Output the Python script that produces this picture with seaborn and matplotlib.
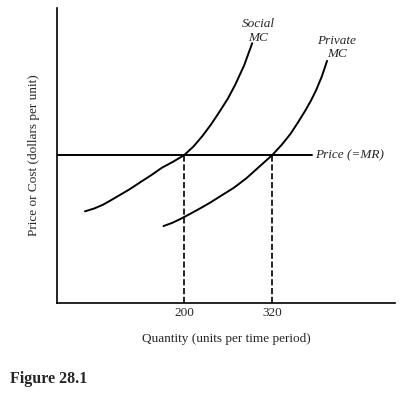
import matplotlib
matplotlib.use("Agg")
import matplotlib.pyplot as plt
import seaborn as sns

sns.set_style("white")
plt.rcParams['font.family'] = ['Liberation Serif', 'DejaVu Serif']

# curves
social_x = [65, 78, 90, 102, 113, 126, 140, 155, 170, 185, 200, 213, 225, 237, 249, 260, 270, 282, 293]
social_y = [31, 32, 33.3, 35, 36.6, 38.5, 40.8, 43.2, 45.8, 47.8, 50, 53, 56.5, 60.5, 65, 69.3, 74, 80.5, 88]
private_x = [172, 184, 195, 208, 222, 236, 250, 268, 285, 302, 320, 333, 345, 355, 365, 373, 380, 388, 395]
private_y = [26, 27.1, 28.4, 30.1, 32, 34, 36.2, 39, 42.2, 46, 50, 53.5, 57.2, 61, 65, 68.5, 72, 76.8, 82]
price = 50
price_x = [27, 375]
q_ticks = [200, 320]

fig = plt.figure(figsize=(4.05, 4.07), dpi=100)
ax = fig.add_axes([0.141, 0.256, 0.835, 0.725])

sns.lineplot(x=social_x, y=social_y, color='black', lw=1.4, ax=ax)
sns.lineplot(x=private_x, y=private_y, color='black', lw=1.4, ax=ax)
ax.plot(price_x, [price, price], color='black', lw=1.4)
for q in q_ticks:
    ax.plot([q, q], [0, price], color='black', lw=1.2, ls='--')

ax.text(301, 92, "Social\nMC", style='italic', ha='center', va='center', fontsize=9.5)
ax.text(408, 86.5, "Private\nMC", style='italic', ha='center', va='center', fontsize=9.5)
ax.text(378, price, "Price (=MR)", style='italic', ha='left', va='center', fontsize=9.5)

ax.set_xlim(27, 488)
ax.set_ylim(0, 100)
ax.set_xticks(q_ticks)
ax.set_xticklabels([str(q) for q in q_ticks], fontsize=9.5)
ax.set_yticks([])
ax.tick_params(axis='x', length=0, pad=3)
ax.set_xlabel("Quantity (units per time period)", fontsize=9.5, labelpad=10)
ax.set_ylabel("Price or Cost (dollars per unit)", fontsize=9.5, labelpad=12)
sns.despine(ax=ax)
for s in ['left', 'bottom']:
    ax.spines[s].set_color('black')
    ax.spines[s].set_linewidth(1.2)

fig.text(0.025, 0.06, "Figure 28.1", fontweight='bold', fontsize=11.5)

fig.savefig("out.png", dpi=100)
